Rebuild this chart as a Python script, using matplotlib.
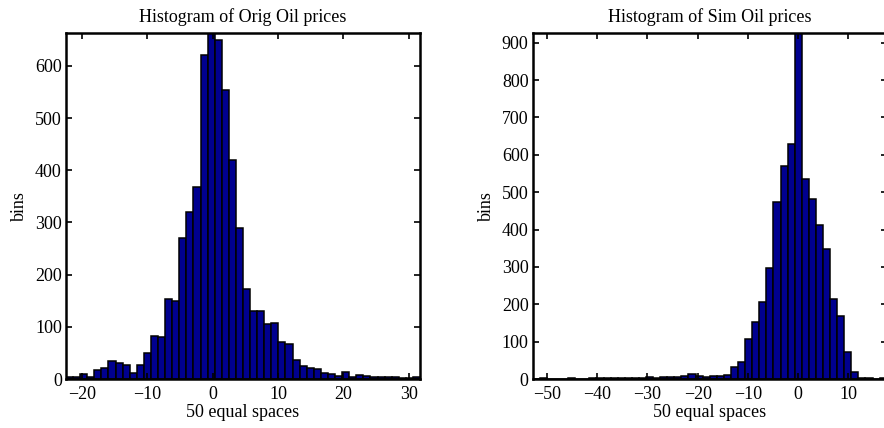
import numpy as np
import matplotlib
matplotlib.use("Agg")
import matplotlib.pyplot as plt

plt.rcParams["font.family"] = ["Liberation Serif", "DejaVu Serif"]
plt.rcParams["font.size"] = 13

# bin counts (50 bins each)
orig_counts = [4, 4, 9, 4, 17, 22, 34, 31, 26, 12,
               26, 50, 82, 80, 154, 150, 271, 320, 367, 621,
               663, 649, 554, 420, 290, 172, 130, 131, 106, 107,
               71, 67, 36, 25, 21, 20, 12, 10, 6, 13,
               4, 8, 6, 4, 3, 3, 4, 1, 2, 3]
orig_range = (-22.4, 31.7)

sim_counts = [1, 2, 1, 1, 1, 2, 1, 1, 2, 3,
              2, 2, 3, 4, 3, 4, 5, 4, 6, 5,
              5, 7, 13, 7, 5, 7, 9, 12, 33, 45,
              107, 153, 207, 298, 473, 571, 630, 926, 536, 483,
              411, 349, 213, 169, 71, 20, 4, 2, 1, 2]
sim_range = (-52.8, 17.6)

titles = ["Histogram of Orig Oil prices", "Histogram of Sim Oil prices"]
xticks = [np.arange(-20, 31, 10), np.arange(-50, 11, 10)]
yticks = [np.arange(0, 601, 100), np.arange(0, 901, 100)]

W, H = 884, 428
fig = plt.figure(figsize=(W / 100, H / 100), dpi=100)
ax1 = fig.add_axes([66 / W, 49 / H, 354 / W, 346 / H])
ax2 = fig.add_axes([532.7 / W, 49 / H, 354 / W, 346 / H])

for ax, counts, rng, title, xt, yt in zip([ax1, ax2], [orig_counts, sim_counts],
                                          [orig_range, sim_range], titles, xticks, yticks):
    edges = np.linspace(rng[0], rng[1], len(counts) + 1)
    ax.bar(edges[:-1], counts, width=np.diff(edges), align="edge",
           color="#00008f", edgecolor="black", linewidth=1.1)
    ax.set_xlim(rng)
    ax.set_ylim(0, max(counts))
    ax.set_xticks(xt)
    ax.set_yticks(yt)
    ax.set_title(title, fontsize=13, pad=8)
    ax.set_xlabel("50 equal spaces", labelpad=1)
    ax.set_ylabel("bins", labelpad=5)
    ax.tick_params(direction="in", top=True, right=True, length=4, width=1.2)
    ax.tick_params(axis="x", pad=5)
    ax.tick_params(axis="y", pad=3)
    for s in ax.spines.values():
        s.set_linewidth(1.8)

fig.savefig("out.png", dpi=100)
